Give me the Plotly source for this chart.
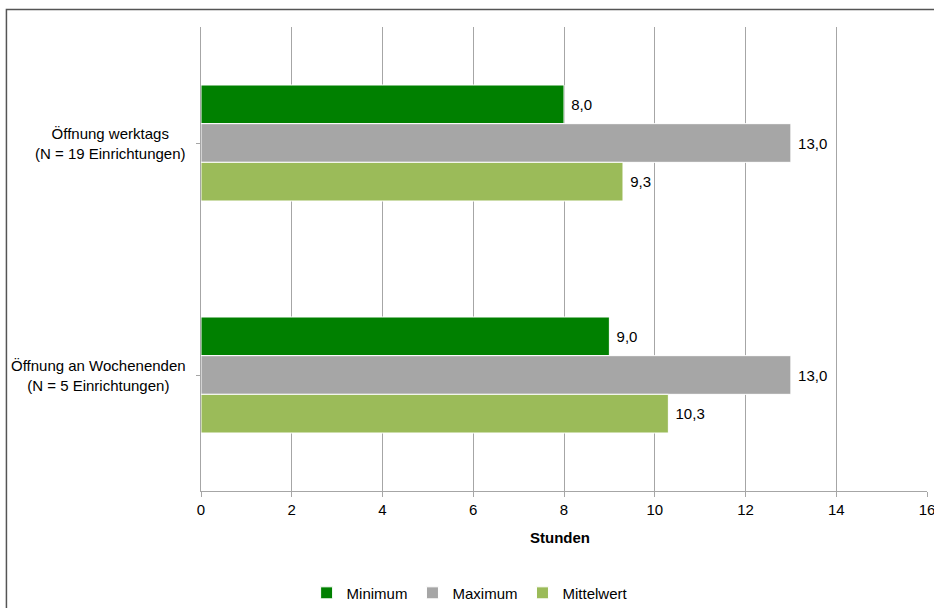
import plotly.graph_objects as go

categories = ["Öffnung werktags<br>(N = 19 Einrichtungen)",
              "Öffnung an Wochenenden<br>(N = 5 Einrichtungen)"]
series_names = ["Minimum", "Maximum", "Mittelwert"]
minimum = [8.0, 9.0]
maximum = [13.0, 13.0]
mittelwert = [9.3, 10.3]
colors = ["#008000", "#A6A6A6", "#9BBB59"]
x_ticks = [0, 2, 4, 6, 8, 10, 12, 14, 16]

FONT = "Liberation Sans, Arial, sans-serif"
FS = 15
fig = go.Figure()
for name, vals, col in zip(series_names, [minimum, maximum, mittelwert], colors):
    fig.add_trace(go.Bar(
        name=name, y=[0, 1], x=vals, orientation="h",
        marker=dict(color=col, line=dict(color="white", width=1)),
        text=["\u00a0" + f"{v:.1f}".replace(".", ",") for v in vals],
        textposition="outside", cliponaxis=False,
        textfont=dict(family=FONT, size=FS, color="#000000"),
    ))

for i, c in enumerate(categories):
    fig.add_annotation(x=-0.018, xref="paper", y=i, yref="y", text=c,
                       xanchor="right", yanchor="middle", align="center",
                       showarrow=False,
                       font=dict(family=FONT, size=FS, color="#000000"))

fig.add_annotation(x=0.495, xref="paper", y=-0.101, yref="paper", text="<b>Stunden</b>",
                   showarrow=False, xanchor="center", yanchor="middle",
                   font=dict(family=FONT, size=FS, color="#000000"))

fig.add_shape(type="rect", xref="paper", yref="paper",
              x0=-0.268, y0=-0.4, x1=1.2, y1=1.0377,
              line=dict(color="#555555", width=1.5), fillcolor="rgba(0,0,0,0)", layer="below")

fig.update_layout(
    width=934, height=608,
    margin=dict(l=201, r=7, t=27, b=117, autoexpand=False),
    paper_bgcolor="white", plot_bgcolor="white",
    barmode="group", bargap=0.5, bargroupgap=0,
    font=dict(family=FONT, size=FS, color="#000000"),
    showlegend=True,
    legend=dict(orientation="h", x=0.37, xanchor="center", y=-0.22, yanchor="middle",
                font=dict(family=FONT, size=FS, color="#000000"),
                itemwidth=30, traceorder="normal"),
    xaxis=dict(range=[0, 16], tickvals=x_ticks, ticktext=[str(t) for t in x_ticks],
               showgrid=True, gridcolor="#A6A6A6", gridwidth=1,
               showline=True, linecolor="#A6A6A6", linewidth=1,
               ticks="outside", ticklen=5, tickcolor="#A6A6A6",
               ticklabeloverflow="allow",
               zeroline=False, tickfont=dict(family=FONT, size=FS)),
    yaxis=dict(range=[1.5, -0.5], tickmode="array", tickvals=[0, 1],
               showticklabels=False, tickson="boundaries",
               ticks="outside", ticklen=4, tickcolor="#A6A6A6",
               showline=True, linecolor="#A6A6A6", linewidth=1,
               showgrid=False, zeroline=False),
)

fig.write_html("out.html", config={"displayModeBar": False},
               post_script="document.body.style.margin='0';document.body.style.overflow='hidden';")
